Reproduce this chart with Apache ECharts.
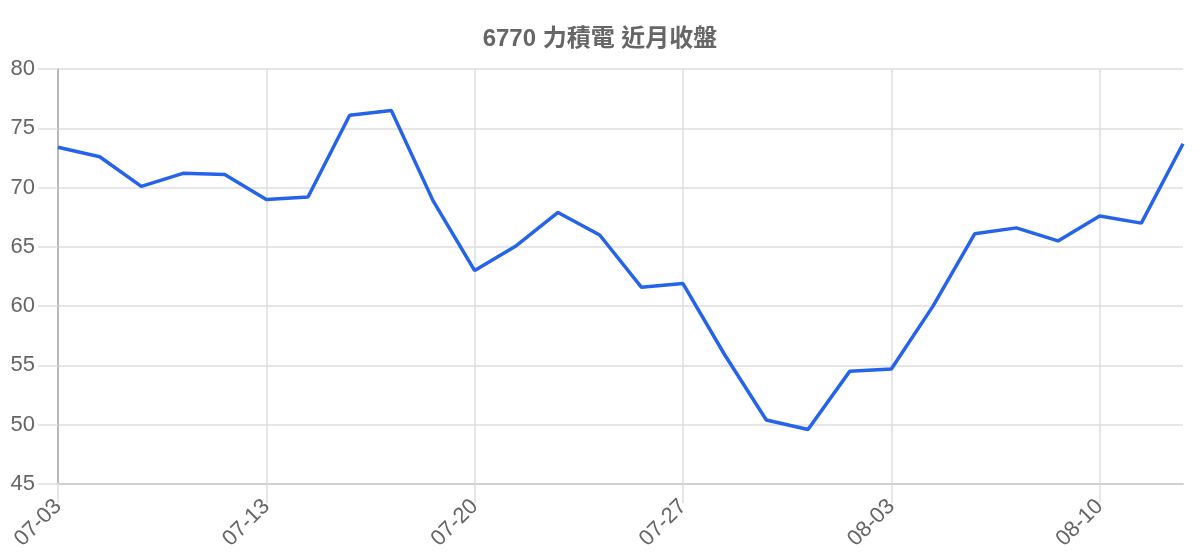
<!DOCTYPE html>
<html>
<head>
<meta charset="utf-8">
<script src="https://cdn.jsdelivr.net/npm/echarts@6/dist/echarts.min.js"></script>
<style>
  html, body { margin: 0; padding: 0; background: #fff; }
  #chart { width: 1200px; height: 560px; }
</style>
</head>
<body>
<div id="chart"></div>
<script>
  // trading days (only every 5th label is shown)
  var dates = [
    '07-03', '07-05', '07-07', '07-10', '07-12',
    '07-13', '07-14', '07-17', '07-18', '07-19',
    '07-20', '07-21', '07-24', '07-25', '07-26',
    '07-27', '07-28', '07-31', '08-01', '08-02',
    '08-03', '08-04', '08-07', '08-08', '08-09',
    '08-10', '08-11', '08-14'
  ];
  var closes = [
    73.4, 72.6, 70.1, 71.2, 71.1,
    69.0, 69.2, 76.1, 76.5, 68.9,
    63.0, 65.1, 67.9, 66.0, 61.6,
    61.9, 55.9, 50.4, 49.6, 54.5,
    54.7, 60.0, 66.1, 66.6, 65.5,
    67.6, 67.0, 73.7
  ];
  var title = '6770 力積電 近月收盤';
  var font = 'Liberation Sans, Arial, Noto Sans CJK TC, sans-serif';

  var chart = echarts.init(document.getElementById('chart'));

  var option = {
    animation: false,
    title: {
      text: title,
      left: 'center',
      top: 22,
      textStyle: {
        fontFamily: font,
        fontSize: 24,
        fontWeight: 'bold',
        color: '#666'
      }
    },
    grid: {
      top: 69,
      right: 17,
      bottom: 76,
      left: 58
    },
    xAxis: {
      type: 'category',
      data: dates,
      boundaryGap: false,
      axisLine: {
        lineStyle: { color: '#d0d0d0', width: 2 }
      },
      axisTick: {
        show: true,
        interval: 4,
        length: 19,
        lineStyle: { color: '#dedede', width: 1.5 }
      },
      axisLabel: {
        interval: 4,
        rotate: 45,
        margin: 19,
        fontFamily: font,
        fontSize: 22,
        color: '#666'
      },
      splitLine: {
        show: true,
        interval: 4,
        lineStyle: { color: '#dedede', width: 1.5 }
      }
    },
    yAxis: {
      type: 'value',
      min: 45,
      max: 80,
      interval: 5,
      axisLine: {
        show: true,
        lineStyle: { color: '#aaa', width: 1.5 }
      },
      axisTick: {
        show: true,
        length: 20,
        lineStyle: { color: '#dedede', width: 1.5 }
      },
      axisLabel: {
        margin: 23,
        fontFamily: font,
        fontSize: 22,
        color: '#666'
      },
      splitLine: {
        lineStyle: { color: '#dedede', width: 1.5 }
      }
    },
    series: [
      {
        name: title,
        type: 'line',
        data: closes,
        symbol: 'none',
        lineStyle: { width: 3.5, color: '#2563eb' },
        itemStyle: { color: '#2563eb' }
      }
    ]
  };

  chart.setOption(option);
</script>
</body>
</html>
